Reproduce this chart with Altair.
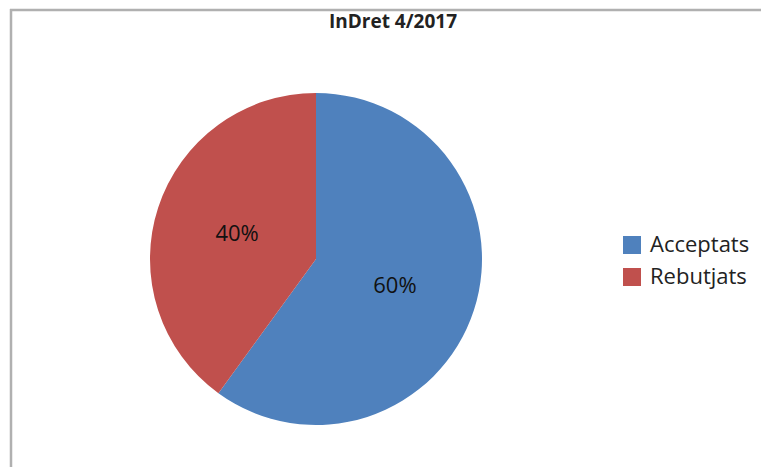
import altair as alt
import pandas as pd

categories = ["Acceptats", "Rebutjats"]
values = [60, 40]
labels = ["60%", "40%"]
colors = ["#4F81BD", "#C0504D"]
title_text = "InDret 4/2017"

df = pd.DataFrame({"cat": categories, "val": values, "lab": labels, "ord": [0, 1]})

W, H = 753, 459
CX, CY = 308, 251

base = alt.Chart(df).encode(
    theta=alt.Theta("val:Q", stack=True),
    order=alt.Order("ord:Q"),
)

pie = base.mark_arc(outerRadius=166).encode(
    x=alt.value(CX),
    y=alt.value(CY),
    color=alt.Color(
        "cat:N",
        scale=alt.Scale(domain=categories, range=colors),
        legend=alt.Legend(
            title=None,
            orient="none",
            legendX=613,
            legendY=226,
            padding=0,
            symbolType="square",
            symbolSize=324,
            symbolStrokeWidth=0,
            symbolOpacity=1,
            labelFontSize=22,
            labelFont="Open Sans",
            labelColor="#222222",
            rowPadding=10,
            labelOffset=7,
        ),
    ),
)

txt = base.mark_text(radius=83, fontSize=22, font="Open Sans", color="#111111").encode(
    x=alt.value(CX),
    y=alt.value(CY + 1),
    text="lab:N",
)

title = alt.Chart(pd.DataFrame({"t": [title_text]})).mark_text(
    fontSize=19, fontWeight="bold", font="Open Sans", color="#222222"
).encode(x=alt.value(385), y=alt.value(14), text="t:N")

border_df = pd.DataFrame({"k": [1]})
left = alt.Chart(border_df).mark_rule(color="#b0b0b0", strokeWidth=2.5).encode(
    x=alt.value(3), y=alt.value(1), y2=alt.value(H)
)
top = alt.Chart(border_df).mark_rule(color="#b0b0b0", strokeWidth=2.5).encode(
    y=alt.value(2), x=alt.value(2), x2=alt.value(W)
)

chart = alt.layer(pie, txt, title, left, top).properties(
    width=W, height=H, padding=0,
    autosize=alt.AutoSizeParams(type="none"),
).configure_view(strokeWidth=0)

chart.save("out.html", embed_options={"renderer": "svg", "actions": False})
